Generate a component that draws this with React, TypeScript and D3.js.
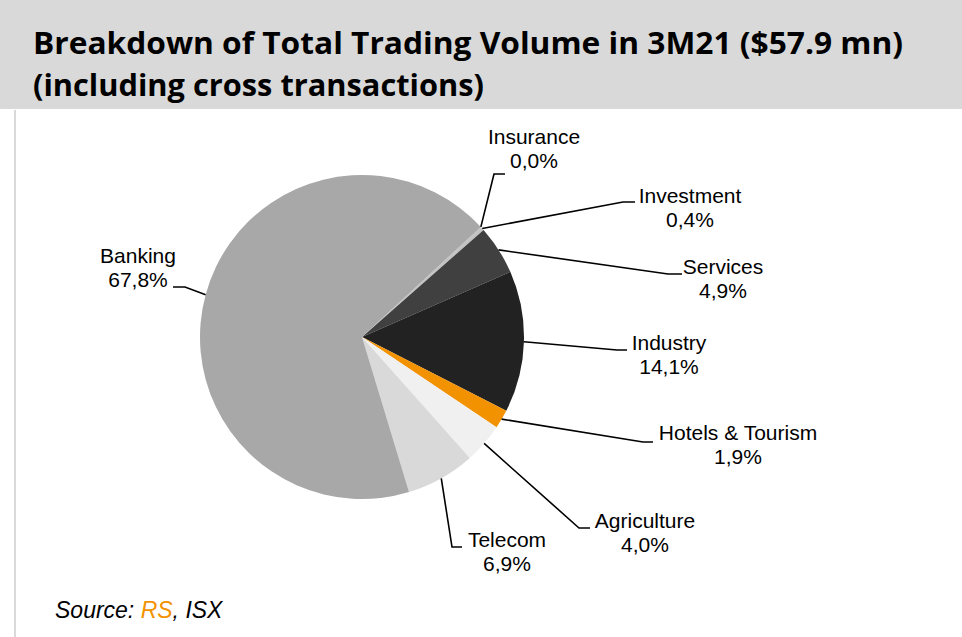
import React from "react";
import * as d3 from "d3";

const categories = ["Insurance", "Investment", "Services", "Industry", "Hotels & Tourism", "Agriculture", "Telecom", "Banking"];
const shares = [0.0, 0.4, 4.9, 14.1, 1.9, 4.0, 6.9, 67.8];
const shareLabels = ["0,0%", "0,4%", "4,9%", "14,1%", "1,9%", "4,0%", "6,9%", "67,8%"];
const sliceColors = ["#bfbfbf", "#c4c4c4", "#404040", "#222222", "#f39200", "#f0f0f0", "#d9d9d9", "#a8a8a8"];

// label layout: centre x, first baseline y, elbow point, end x of horizontal tail
const labelX = [534, 690, 723, 669, 738, 645, 507, 138];
const labelY = [144, 203, 274, 350, 440, 528, 547, 263];
const elbowX = [494, 623, 668, 617, 643, 579, 452, 185];
const elbowY = [174, 202, 274, 350, 442, 528, 547, 287];
const tailX = [505, 635, 682, 627, 653, 590, 462, 173];

const W = 962;
const H = 637;
const cx = 362;
const cy = 337;
const R = 162;
const startDeg = 47.2;

export default function App() {
  const start = (startDeg * Math.PI) / 180;
  const pie = d3
    .pie<number>()
    .sort(null)
    .value((d) => d)
    .startAngle(start)
    .endAngle(start + 2 * Math.PI);
  const arcs = pie(shares);
  const arc = d3.arc<d3.PieArcDatum<number>>().innerRadius(0).outerRadius(R);
  const edge = d3.arc<d3.PieArcDatum<number>>().innerRadius(R).outerRadius(R);

  const labelFont = "'Liberation Sans', Arial, sans-serif";

  return (
    <svg
      width={W}
      height={H}
      style={{ position: "absolute", left: 0, top: 0, background: "#ffffff" }}
    >
      <rect x={0} y={0} width={W} height={109} fill="#d9d9d9" />
      <rect x={14} y={110} width={2} height={H - 110} fill="#d9d9d9" />
      <text
        x={33}
        y={54}
        fontFamily="'Open Sans', sans-serif"
        fontWeight="bold"
        fontSize={30}
        fill="#000"
        textLength={870}
        lengthAdjust="spacingAndGlyphs"
      >
        Breakdown of Total Trading Volume in 3M21 ($57.9 mn)
      </text>
      <text
        x={33}
        y={96}
        fontFamily="'Open Sans', sans-serif"
        fontWeight="bold"
        fontSize={30}
        fill="#000"
        textLength={451}
        lengthAdjust="spacingAndGlyphs"
      >
        (including cross transactions)
      </text>

      <g transform={`translate(${cx},${cy})`}>
        {arcs.map((a, i) => (
          <path key={i} d={arc(a) || ""} fill={sliceColors[i]} />
        ))}
      </g>

      {arcs.map((a, i) => {
        const [px, py] = edge.centroid(a);
        const pts = `${cx + px},${cy + py} ${elbowX[i]},${elbowY[i]} ${tailX[i]},${elbowY[i]}`;
        return (
          <polyline key={"l" + i} points={pts} fill="none" stroke="#000" strokeWidth={1.6} />
        );
      })}

      {categories.map((c, i) => (
        <text
          key={"t" + i}
          x={labelX[i]}
          y={labelY[i]}
          textAnchor="middle"
          fontFamily={labelFont}
          fontSize={21}
          fill="#000"
        >
          <tspan x={labelX[i]} y={labelY[i]}>{c}</tspan>
          <tspan x={labelX[i]} y={labelY[i] + 24}>{shareLabels[i]}</tspan>
        </text>
      ))}

      <text x={55} y={618} fontFamily={labelFont} fontStyle="italic" fontSize={23} fill="#000">
        Source: <tspan fill="#f39200">RS</tspan>, ISX
      </text>
    </svg>
  );
}
